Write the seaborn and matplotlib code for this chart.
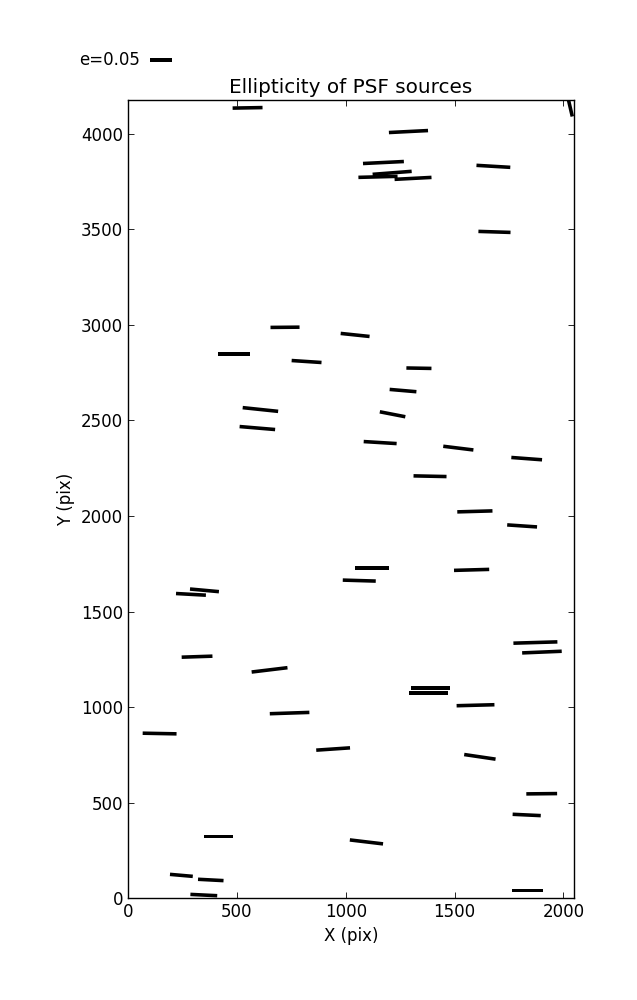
# PSF ellipticity map: one headless stick per star

import numpy as np
import seaborn as sns
import matplotlib.pyplot as plt

x_pos = [549, 2025, 1288, 1173, 1213, 1148, 1309, 1678, 1683, 721,
         1043, 485, 820, 1336, 1263, 608, 1215, 594, 1158, 1517,
         1831, 1387, 1593, 1810, 1119, 1578, 1062, 351, 289, 1871,
         1901, 317, 650, 1388, 1381, 1596, 742, 145, 942, 1616,
         1900, 1831, 417, 1095, 245, 380, 348, 1833]
y_pos = [4135, 4166, 4011, 3849, 3795, 3774, 3766, 3829, 3486, 2987,
         2947, 2848, 2808, 2773, 2656, 2557, 2532, 2460, 2384, 2355,
         2300, 2208, 2024, 1948, 1729, 1718, 1662, 1611, 1590, 1338,
         1288, 1264, 1195, 1099, 1075, 1010, 969, 862, 781, 740,
         547, 436, 323, 295, 120, 96, 17, 40]
e_val = [0.068, 0.068, 0.089, 0.093, 0.089, 0.089, 0.084, 0.077, 0.073, 0.066,
         0.066, 0.073, 0.068, 0.057, 0.061, 0.081, 0.059, 0.081, 0.075, 0.069,
         0.070, 0.075, 0.080, 0.068, 0.077, 0.080, 0.075, 0.066, 0.068, 0.100,
         0.090, 0.070, 0.082, 0.088, 0.088, 0.086, 0.090, 0.077, 0.077, 0.072,
         0.070, 0.064, 0.066, 0.076, 0.052, 0.058, 0.061, 0.070]
theta_deg = [1, 103, 2.9, 2.8, 4.4, 1.5, 3, -3.4, -1.8, 0.5,
             -6, 0, -3.8, -1, -4.9, -6, -11, -4.8, -3.5, -7,
             -4.3, -1.2, 1.6, -3.9, 0, 1.6, -1.7, -5.2, -3.2, 1.7,
             2.4, 1.9, 6.9, 0, 0, 1.5, 1.9, -1.1, 3.9, -8.4,
             0.6, -2.7, 0, -6.8, -5, -3, -2.8, 0]

sns.set_theme(style='ticks', rc={
    'font.size': 12,
    'text.color': 'black',
    'axes.labelcolor': 'black',
    'xtick.color': 'black',
    'ytick.color': 'black',
    'axes.edgecolor': 'black',
    'axes.linewidth': 1.0,
    'xtick.direction': 'in',
    'ytick.direction': 'in',
    'xtick.top': True,
    'ytick.right': True,
    'xtick.major.size': 4,
    'ytick.major.size': 4,
    'xtick.major.width': 0.6,
    'ytick.major.width': 0.6,
    'xtick.labelsize': 12,
    'ytick.labelsize': 12,
    'axes.labelsize': 12,
    'axes.titlesize': 14.4,
})
plt.rcParams['font.family'] = ['DejaVu Sans']

e = np.array(e_val)
th = np.radians(theta_deg)
u = e * np.cos(th)
v = e * np.sin(th)

fig = plt.figure(figsize=(6.37, 10), dpi=100)
ax = fig.add_axes([0.201, 0.1017, 0.700, 0.7983])

q = ax.quiver(x_pos, y_pos, u, v, color='black', pivot='middle',
              headwidth=0, headlength=0, headaxislength=0,
              scale=0.05 / 0.22, scale_units='inches', width=0.008)
ax.quiverkey(q, 0.236, 0.94, 0.05, 'e=0.05', labelpos='W',
             coordinates='figure', fontproperties={'size': 12})

ax.set_xlim(0, 2048)
ax.set_ylim(0, 4176)
ax.set_xticks(range(0, 2001, 500))
ax.set_yticks(range(0, 4001, 500))
ax.set_xlabel('X (pix)')
ax.set_ylabel('Y (pix)')
ax.set_title('Ellipticity of PSF sources', pad=5)

fig.savefig('out.png', dpi=100)
